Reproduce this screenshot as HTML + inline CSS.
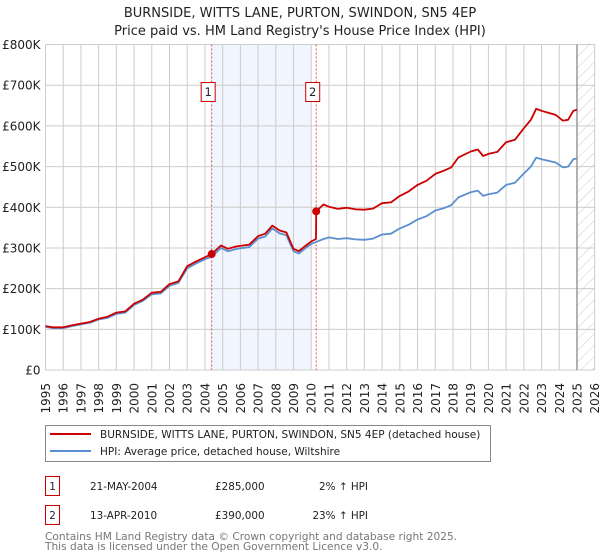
<!DOCTYPE html>
<html><head><meta charset="utf-8"><style>
body{margin:0;background:#fff;font-family:"DejaVu Sans","Liberation Sans",sans-serif;}
#wrap{position:relative;width:600px;height:560px;overflow:hidden}
</style></head><body><div id="wrap">
<svg id="svg" width="600" height="560" xmlns="http://www.w3.org/2000/svg" font-family="DejaVu Sans, Liberation Sans, sans-serif">
<defs><pattern id="hatch" width="8" height="8" patternUnits="userSpaceOnUse" patternTransform="rotate(45)"><line x1="0" y1="0" x2="0" y2="8" stroke="#ccc" stroke-width="1"/></pattern></defs>
<text x="300" y="17" text-anchor="middle" font-size="13" fill="#222">BURNSIDE, WITTS LANE, PURTON, SWINDON, SN5 4EP</text>
<text x="300" y="35" text-anchor="middle" font-size="13" fill="#222">Price paid vs. HM Land Registry's House Price Index (HPI)</text>
<g id="plot"></g>
<rect x="45.5" y="425.5" width="445" height="36" fill="#fff" stroke="#888"/>
<line x1="50" y1="434" x2="91" y2="434" stroke="#cc0000" stroke-width="2"/>
<text x="100" y="438" font-size="10.5" fill="#222">BURNSIDE, WITTS LANE, PURTON, SWINDON, SN5 4EP (detached house)</text>
<line x1="50" y1="451" x2="91" y2="451" stroke="#5b8fd0" stroke-width="2"/>
<text x="100" y="455" font-size="10.5" fill="#222">HPI: Average price, detached house, Wiltshire</text>
<g font-size="10.4" fill="#222">
<rect x="45.5" y="476.5" width="14" height="19" fill="none" stroke="#cc0000"/>
<text x="52.5" y="490" text-anchor="middle">1</text>
<text x="90" y="490">21-MAY-2004</text>
<text x="215" y="490">£285,000</text>
<text x="368" y="490" text-anchor="end">2% ↑ HPI</text>
<rect x="45.5" y="505.5" width="14" height="19" fill="none" stroke="#cc0000"/>
<text x="52.5" y="519" text-anchor="middle">2</text>
<text x="90" y="519">13-APR-2010</text>
<text x="215" y="519">£390,000</text>
<text x="368" y="519" text-anchor="end">23% ↑ HPI</text>
</g>
<text x="45" y="540" font-size="10.6" fill="#777">Contains HM Land Registry data © Crown copyright and database right 2025.</text>
<text x="45" y="550" font-size="10.6" fill="#777">This data is licensed under the Open Government Licence v3.0.</text>
</svg></div>
<script>
const yTicks=[0,100,200,300,400,500,600,700,800];
const yTickLabels=["£0","£100K","£200K","£300K","£400K","£500K","£600K","£700K","£800K"];
const xYears=[1995,1996,1997,1998,1999,2000,2001,2002,2003,2004,2005,2006,2007,2008,2009,2010,2011,2012,2013,2014,2015,2016,2017,2018,2019,2020,2021,2022,2023,2024,2025,2026];
const hpiT=[1995,1995.4,1996,1996.5,1997,1997.5,1998,1998.5,1999,1999.5,2000,2000.5,2001,2001.5,2002,2002.5,2003,2003.5,2004,2004.4,2004.9,2005.3,2005.7,2006,2006.5,2007,2007.4,2007.8,2008.2,2008.6,2009,2009.3,2009.7,2010,2010.3,2010.7,2011,2011.5,2012,2012.5,2013,2013.5,2014,2014.5,2015,2015.5,2016,2016.5,2017,2017.5,2017.9,2018.3,2019,2019.4,2019.7,2020,2020.5,2021,2021.5,2022,2022.4,2022.7,2023,2023.4,2023.8,2024.2,2024.5,2024.8,2025];
const hpiV=[106,103,103,108,112,116,124,128,138,141,160,170,186,188,207,214,250,262,272,279,300,292,297,299,302,323,328,348,336,331,292,286,300,310,315,322,326,322,324,321,320,323,333,335,348,357,370,378,392,398,405,424,437,441,428,432,436,455,460,483,500,522,518,514,510,498,500,518,520];
const propT=[1995,1995.4,1996,1996.5,1997,1997.5,1998,1998.5,1999,1999.5,2000,2000.5,2001,2001.5,2002,2002.5,2003,2003.5,2004,2004.38,2004.9,2005.3,2005.7,2006,2006.5,2007,2007.4,2007.8,2008.2,2008.6,2009,2009.3,2009.7,2010,2010.27,2010.28,2010.7,2011,2011.5,2012,2012.5,2013,2013.5,2014,2014.5,2015,2015.5,2016,2016.5,2017,2017.5,2017.9,2018.3,2019,2019.4,2019.7,2020,2020.5,2021,2021.5,2022,2022.4,2022.7,2023,2023.4,2023.8,2024.2,2024.5,2024.8,2025];
const propV=[108,105,105,110,114,118,126,131,141,144,163,173,190,192,211,218,255,267,277,285,306,298,303,305,308,329,335,355,343,338,298,292,306,316,322,390,407,401,396,399,395,394,397,410,412,428,439,455,465,482,490,498,522,537,542,526,531,536,560,566,594,615,642,637,632,627,613,615,637,640];
const sales=[{t:2004.38,v:285,n:"1"},{t:2010.28,v:390,n:"2"}];
const X0=45.5,X1=594.7,Y0=370,Y1=44.5;
const xs=t=>X0+(t-1995)*(X1-X0)/31;
const ys=v=>Y0-v*(Y0-Y1)/800;
const NS="http://www.w3.org/2000/svg";
const plot=document.getElementById('plot');
function mk(tag,attrs,parent){const e=document.createElementNS(NS,tag);for(const k in attrs)e.setAttribute(k,attrs[k]);(parent||plot).appendChild(e);return e;}
const shade=mk('rect',{x:210,y:Y1,width:101.5,height:Y0-Y1,fill:'#eef3fd',opacity:0.8});


const hatch=mk('rect',{x:xs(2025),y:Y1,width:X1-xs(2025),height:Y0-Y1,fill:'url(#hatch)'});


xYears.forEach(y=>{const l=mk('line',{x1:xs(y),x2:xs(y),y1:Y1,y2:Y0,stroke:'#ccc','stroke-width':1});


const t=mk('text',{x:0,y:0,'font-size':12,fill:'#222','text-anchor':'end',transform:`translate(${xs(y)+4.5},${Y0+13}) rotate(-90)`});t.textContent=y;

});
yTicks.forEach((v,i)=>{const l=mk('line',{x1:X0,x2:X1,y1:ys(v),y2:ys(v),stroke:'#ccc','stroke-width':1});


const t=mk('text',{x:X0-5,y:ys(v)+4.5,'font-size':12,fill:'#222','text-anchor':'end'});t.textContent=yTickLabels[i];

});
const nowLine=mk('line',{x1:xs(2025),x2:xs(2025),y1:Y1,y2:Y0,stroke:'#999','stroke-width':1.5});


sales.forEach(s=>{const l=mk('line',{x1:xs(s.t),x2:xs(s.t),y1:Y1,y2:Y0,stroke:'#e05050','stroke-width':1,'stroke-dasharray':'2,2'});

});
function path(T,V,color,name){const d=T.map((t,i)=>(i?'L':'M')+xs(t).toFixed(1)+','+ys(V[i]).toFixed(1)).join('');
const p=mk('path',{d:d,fill:'none',stroke:color,'stroke-width':1.8,'stroke-linejoin':'round'});

}
path(hpiT,hpiV,'#5b8fd0','hpi-line');
path(propT,propV,'#cc0000','property-line');
sales.forEach(s=>{const c=mk('circle',{cx:xs(s.t),cy:ys(s.v),r:4,fill:'#cc0000'});


const b=mk('rect',{x:xs(s.t)-10.5,y:82.5,width:14,height:19,fill:'#fff',stroke:'#cc0000'});


const t=mk('text',{x:xs(s.t)-3.5,y:96,'font-size':11.5,fill:'#222','text-anchor':'middle'});t.textContent=s.n;

});
</script></body></html>
